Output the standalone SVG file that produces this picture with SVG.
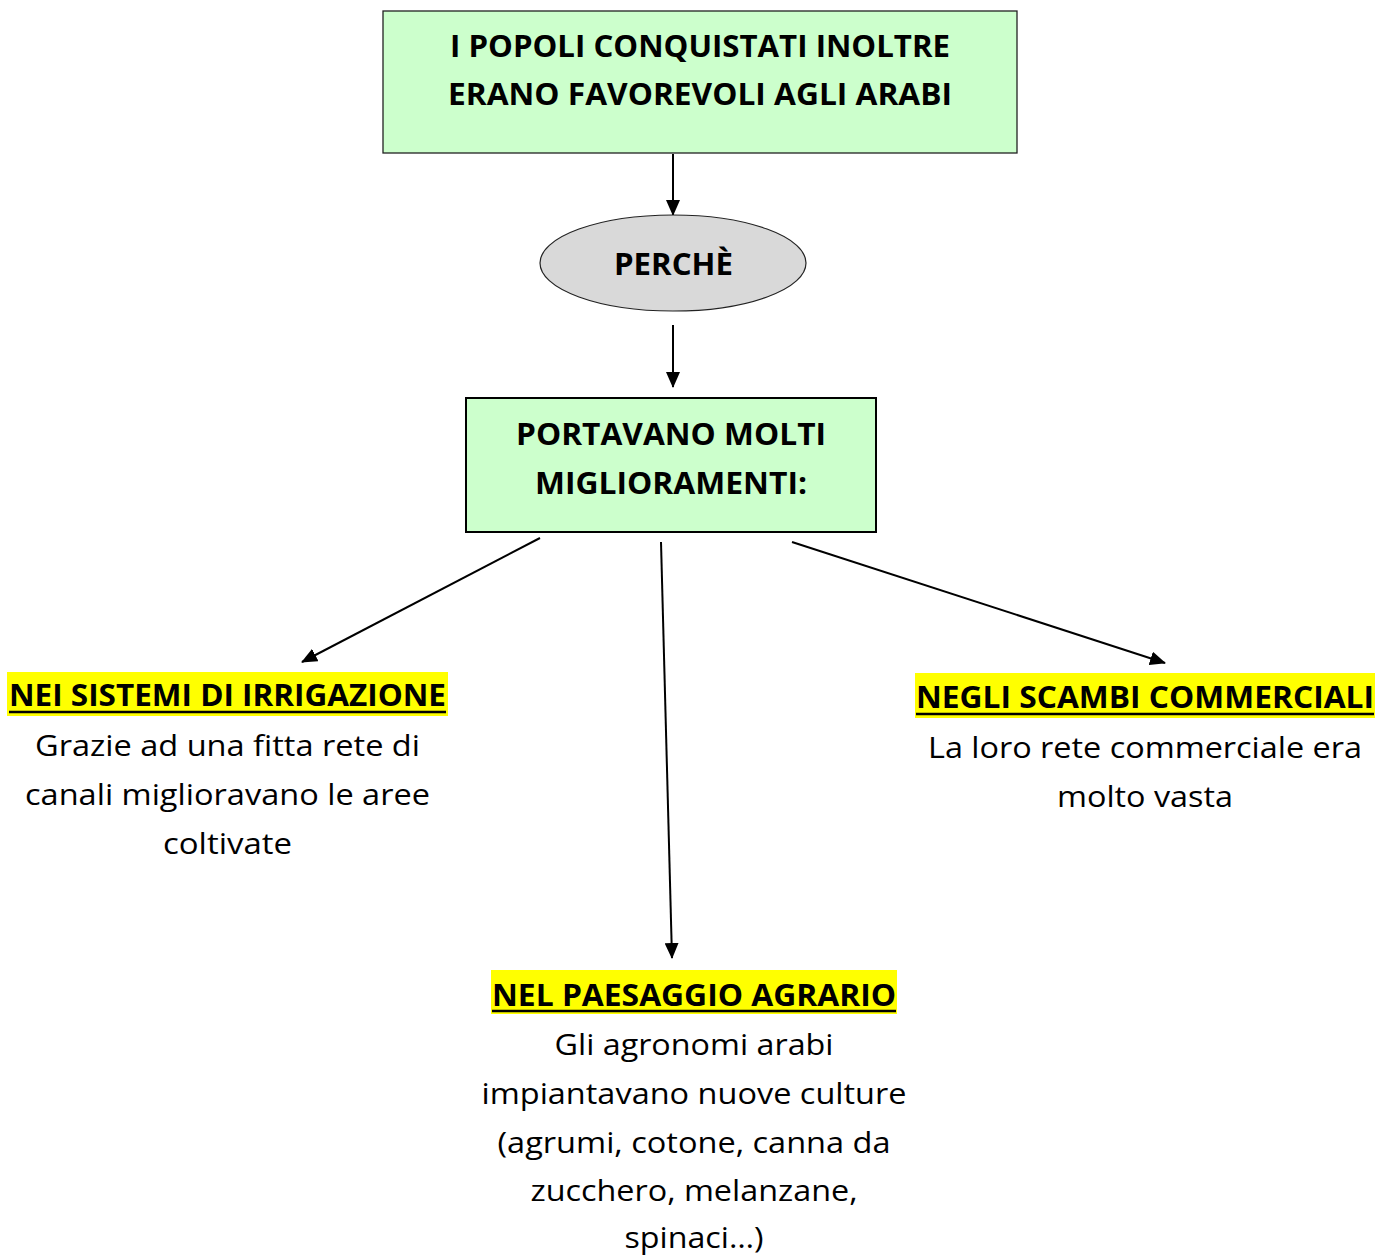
<svg xmlns="http://www.w3.org/2000/svg" width="1390" height="1258" viewBox="0 0 1390 1258">
<style>
.b{font-family:"Open Sans","Noto Sans","Liberation Sans",sans-serif;font-weight:bold;font-size:31px;fill:#000;text-anchor:middle}
.t{font-family:"Open Sans","Noto Sans","Liberation Sans",sans-serif;font-size:30px;fill:#000;text-anchor:middle}
.c{stroke:#000;stroke-width:2;fill:none;marker-end:url(#ah)}
.hl{fill:#ffff00}
.ul{stroke:#000;stroke-width:2.5}
</style>
<defs>
<marker id="ah" markerWidth="16" markerHeight="14" refX="15" refY="7" orient="auto" markerUnits="userSpaceOnUse">
<path d="M0,0 L16,7 L0,14 Z" fill="#000"/>
</marker>
</defs>
<rect width="1390" height="1258" fill="#fff"/>
<g id="connectors">
<line class="c" x1="673" y1="154" x2="673" y2="215"/>
<line class="c" x1="673" y1="325" x2="673" y2="387"/>
<line class="c" x1="540" y1="538" x2="302" y2="662"/>
<line class="c" x1="661" y1="542" x2="672" y2="958"/>
<line class="c" x1="792" y1="542" x2="1165" y2="663"/>
</g>
<g id="node-top">
<rect x="383" y="11" width="634" height="142" fill="#ccffcc" stroke="#222" stroke-width="1.3"/>
<text class="b" x="700" y="57" textLength="500" lengthAdjust="spacingAndGlyphs">I POPOLI CONQUISTATI INOLTRE</text>
<text class="b" x="700" y="105" textLength="504" lengthAdjust="spacingAndGlyphs">ERANO FAVOREVOLI AGLI ARABI</text>
</g>
<g id="node-perche">
<ellipse cx="673" cy="263" rx="133" ry="48" fill="#d9d9d9" stroke="#222" stroke-width="1.2"/>
<text class="b" x="673.5" y="275" textLength="119" lengthAdjust="spacingAndGlyphs">PERCHÈ</text>
</g>
<g id="node-portavano">
<rect x="466" y="398" width="410" height="134" fill="#ccffcc" stroke="#000" stroke-width="2"/>
<text class="b" x="671" y="445" textLength="310" lengthAdjust="spacingAndGlyphs">PORTAVANO MOLTI</text>
<text class="b" x="671" y="494" textLength="272" lengthAdjust="spacingAndGlyphs">MIGLIORAMENTI:</text>
</g>
<g id="node-irrigazione">
<rect class="hl" x="7" y="672" width="441" height="44"/>
<text class="b" x="227.5" y="706" textLength="437" lengthAdjust="spacingAndGlyphs">NEI SISTEMI DI IRRIGAZIONE</text>
<line class="ul" x1="9" y1="712" x2="446" y2="712"/>
<text class="t" x="227.5" y="756" textLength="385" lengthAdjust="spacingAndGlyphs">Grazie ad una fitta rete di</text>
<text class="t" x="227.5" y="805" textLength="405" lengthAdjust="spacingAndGlyphs">canali miglioravano le aree</text>
<text class="t" x="227.5" y="854" textLength="129" lengthAdjust="spacingAndGlyphs">coltivate</text>
</g>
<g id="node-scambi">
<rect class="hl" x="915" y="673" width="460" height="45"/>
<text class="b" x="1145" y="708" textLength="458" lengthAdjust="spacingAndGlyphs">NEGLI SCAMBI COMMERCIALI</text>
<line class="ul" x1="916" y1="714" x2="1374" y2="714"/>
<text class="t" x="1145" y="758" textLength="434" lengthAdjust="spacingAndGlyphs">La loro rete commerciale era</text>
<text class="t" x="1145" y="807" textLength="176" lengthAdjust="spacingAndGlyphs">molto vasta</text>
</g>
<g id="node-paesaggio">
<rect class="hl" x="491" y="970" width="406" height="44"/>
<text class="b" x="694" y="1006" textLength="404" lengthAdjust="spacingAndGlyphs">NEL PAESAGGIO AGRARIO</text>
<line class="ul" x1="492" y1="1011" x2="896" y2="1011"/>
<text class="t" x="694" y="1055" textLength="279" lengthAdjust="spacingAndGlyphs">Gli agronomi arabi</text>
<text class="t" x="694" y="1104" textLength="425" lengthAdjust="spacingAndGlyphs">impiantavano nuove culture</text>
<text class="t" x="694" y="1153" textLength="393" lengthAdjust="spacingAndGlyphs">(agrumi, cotone, canna da</text>
<text class="t" x="694" y="1201" textLength="327" lengthAdjust="spacingAndGlyphs">zucchero, melanzane,</text>
<text class="t" x="694" y="1248" textLength="139" lengthAdjust="spacingAndGlyphs">spinaci…)</text>
</g>
</svg>
